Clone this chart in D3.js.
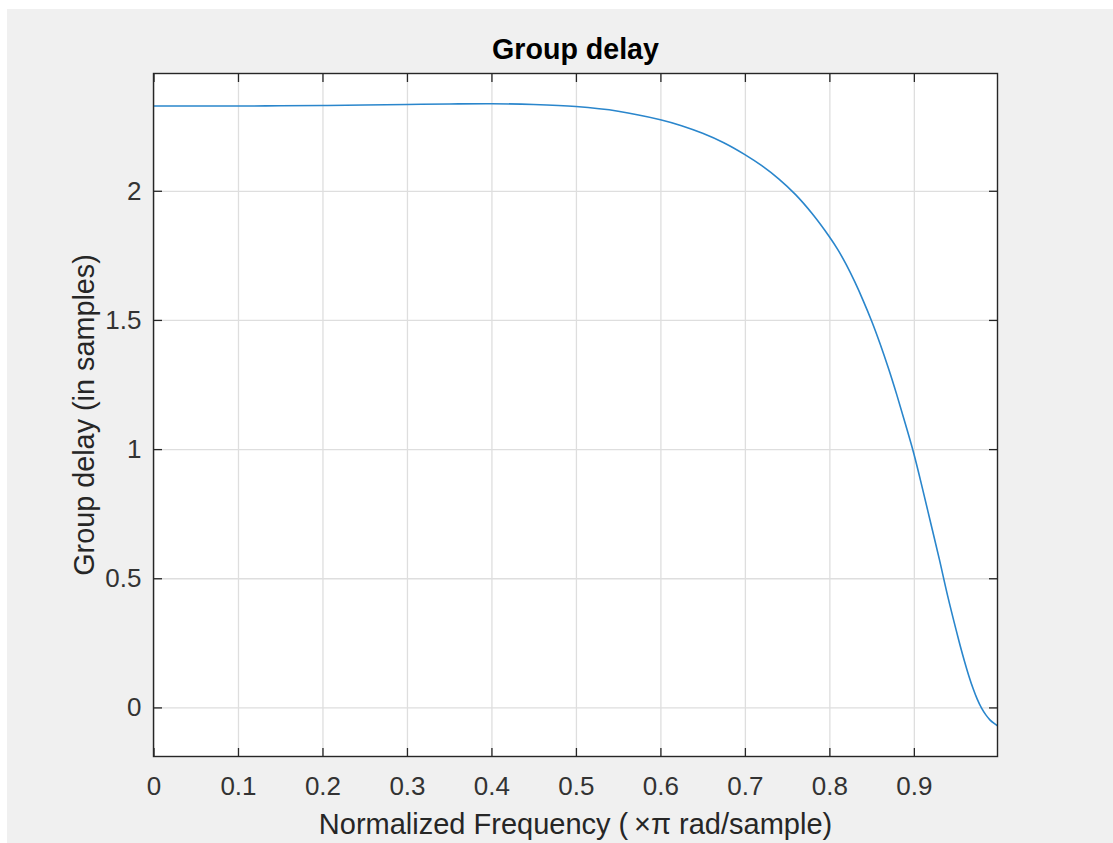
<!DOCTYPE html>
<html>
<head>
<meta charset="utf-8">
<script src="https://cdn.jsdelivr.net/npm/d3@7"></script>
<style>
  html, body { margin: 0; padding: 0; background: #ffffff; }
  svg { display: block; }
  text { font-family: "Liberation Sans", Arial, Helvetica, sans-serif; }
</style>
</head>
<body>
<svg id="chart" width="1113" height="843"></svg>
<script>
// ---- data ----
const freq = [0, 0.05, 0.1, 0.15, 0.2, 0.25, 0.3, 0.35, 0.4, 0.45, 0.5, 0.55, 0.6, 0.625, 0.65, 0.675, 0.7,
  0.72, 0.74, 0.76, 0.78, 0.8, 0.81, 0.82, 0.83, 0.84, 0.85, 0.86, 0.87, 0.88, 0.89, 0.9,
  0.91, 0.92, 0.93, 0.94, 0.95, 0.955, 0.96, 0.965, 0.97, 0.975, 0.98, 0.985, 0.99, 0.995, 0.999];
const delay = [2.328, 2.328, 2.328, 2.329, 2.330, 2.332, 2.334, 2.336, 2.337, 2.334, 2.326, 2.308, 2.275, 2.252, 2.2225, 2.186, 2.140,
  2.097, 2.046, 1.985, 1.910, 1.822, 1.772, 1.714, 1.648, 1.575, 1.496, 1.408, 1.312, 1.208, 1.097, 0.982,
  0.850, 0.713, 0.576, 0.432, 0.300, 0.237, 0.178, 0.123, 0.074, 0.032, -0.002, -0.028, -0.048, -0.062, -0.071];
const xTicks = [0, 0.1, 0.2, 0.3, 0.4, 0.5, 0.6, 0.7, 0.8, 0.9];
const xTickLabels = ["0", "0.1", "0.2", "0.3", "0.4", "0.5", "0.6", "0.7", "0.8", "0.9"];
const yTicks = [0, 0.5, 1, 1.5, 2];
const yTickLabels = ["0", "0.5", "1", "1.5", "2"];
const xDomain = [0, 0.999];
const yDomain = [-0.19, 2.454];
const titleText = "Group delay";
const xLabelText = "Normalized Frequency (\u2009\u00D7\u03C0 rad/sample)";
const yLabelText = "Group delay (in samples)";

// ---- layout ----
const svg = d3.select("#chart");
const L = 153.5, R = 997.5, T = 73.5, B = 756.5;
const axisColor = "#262626";
const gridColor = "#dedede";
const tickLen = 8.5;

svg.append("rect").attr("x", 7).attr("y", 9).attr("width", 1113 - 7).attr("height", 843 - 9)
  .attr("fill", "#f0f0f0");
svg.append("rect").attr("x", L).attr("y", T).attr("width", R - L).attr("height", B - T)
  .attr("fill", "#ffffff");

const x = d3.scaleLinear().domain(xDomain).range([L, R]);
const y = d3.scaleLinear().domain(yDomain).range([B, T]);

// grid
const gx = svg.append("g").attr("transform", `translate(0,${B})`)
  .call(d3.axisBottom(x).tickValues(xTicks).tickSize(-(B - T)).tickFormat(""));
gx.select(".domain").remove();
gx.selectAll("line").attr("stroke", gridColor).attr("stroke-width", 1.3);
const gy = svg.append("g").attr("transform", `translate(${L},0)`)
  .call(d3.axisLeft(y).tickValues(yTicks).tickSize(-(R - L)).tickFormat(""));
gy.select(".domain").remove();
gy.selectAll("line").attr("stroke", gridColor).attr("stroke-width", 1.3);

// curve
const line = d3.line().x((d, i) => x(freq[i])).y(d => y(d)).curve(d3.curveCatmullRom.alpha(0.5));
svg.append("path").datum(delay).attr("d", line)
  .attr("fill", "none").attr("stroke", "#2a86cc").attr("stroke-width", 1.6);

// axes with inward ticks
function styleAxis(g) {
  g.select(".domain").remove();
  g.selectAll(".tick line").attr("stroke", axisColor).attr("stroke-width", 1.3);
  g.selectAll(".tick text").attr("fill", "#333333").style("font-size", "26px")
    .style("font-family", "'Liberation Sans', Arial, sans-serif");
}
const xb = svg.append("g").attr("transform", `translate(0,${B})`)
  .call(d3.axisBottom(x).tickValues(xTicks).tickSize(-tickLen).tickPadding(20)
    .tickFormat((d, i) => xTickLabels[i]));
styleAxis(xb);
xb.selectAll(".tick text").attr("dy", "0.71em").attr("y", 20);
const xt = svg.append("g").attr("transform", `translate(0,${T})`)
  .call(d3.axisTop(x).tickValues(xTicks).tickSize(-tickLen).tickFormat(""));
styleAxis(xt);
const yl = svg.append("g").attr("transform", `translate(${L},0)`)
  .call(d3.axisLeft(y).tickValues(yTicks).tickSize(-tickLen).tickPadding(12)
    .tickFormat((d, i) => yTickLabels[i]));
styleAxis(yl);
yl.selectAll(".tick text").attr("x", -12);
const yr = svg.append("g").attr("transform", `translate(${R},0)`)
  .call(d3.axisRight(y).tickValues(yTicks).tickSize(-tickLen).tickFormat(""));
styleAxis(yr);

// box
svg.append("rect").attr("x", L).attr("y", T).attr("width", R - L).attr("height", B - T)
  .attr("fill", "none").attr("stroke", axisColor).attr("stroke-width", 1.4);

// labels
svg.append("text").attr("x", (L + R) / 2).attr("y", 59).attr("text-anchor", "middle")
  .attr("fill", "#000").style("font-size", "28.6px").style("font-weight", "bold").text(titleText);
svg.append("text").attr("x", (L + R) / 2).attr("y", 833.5).attr("text-anchor", "middle")
  .attr("fill", "#262626").style("font-size", "29px").text(xLabelText);
svg.append("text").attr("transform", `translate(93.5,${(T + B) / 2}) rotate(-90)`)
  .attr("text-anchor", "middle").attr("fill", "#262626").style("font-size", "28.8px").text(yLabelText);
</script>
</body>
</html>
